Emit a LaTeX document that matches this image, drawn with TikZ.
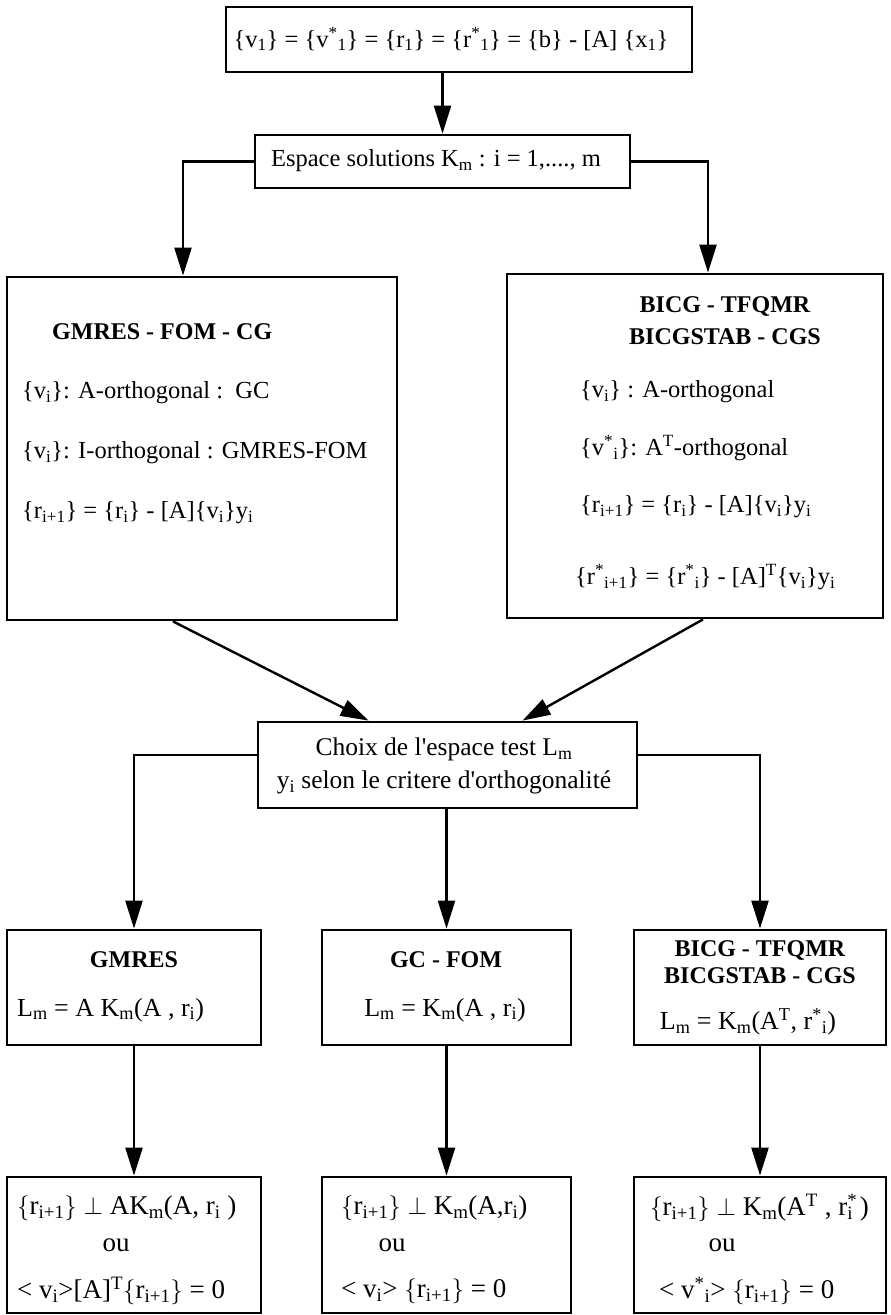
\documentclass[tikz,border=0pt]{standalone}
\usepackage{fontspec}
\setmainfont{Liberation Serif}
\usetikzlibrary{arrows.meta}
\newcommand{\sbs}[1]{\textsubscript{#1}}
\newcommand{\sps}[1]{\textsuperscript{#1}}
\newcommand{\lb}{$\bigl\{$}
\newcommand{\rb}{$\bigr\}$}
\newcommand{\qs}{\textquotesingle}
\begin{document}
\begin{tikzpicture}[x=1pt,y=-1pt,
  box/.style={draw,line width=2.8pt,inner sep=0pt},
  txt/.style={font=\fontsize{24.5}{29}\selectfont,inner sep=0pt},
  txtb/.style={font=\fontsize{24}{27}\selectfont\bfseries,inner sep=0pt,align=center},
  txtm/.style={font=\fontsize{26}{30}\selectfont,inner sep=0pt},
  txtl/.style={font=\fontsize{27}{30}\selectfont,inner sep=0pt},
  arr/.style={line width=2.4pt,-{Triangle[length=28pt,width=17pt]}},
  ln/.style={line width=2.4pt}]
\useasboundingbox (0,0) rectangle (891,1315);
\fill[white] (0,0) rectangle (891,1315);
% boxes
\node[box,minimum width=466pt,minimum height=65pt] (top) at (459,39.5) {};
\node[box,minimum width=375pt,minimum height=53pt] (esp) at (442.5,161.5) {};
\node[box,minimum width=390pt,minimum height=343pt] (lbx) at (202,448.5) {};
\node[box,minimum width=376pt,minimum height=344pt] (rbx) at (695,446) {};
\node[box,minimum width=379pt,minimum height=86pt] (ch) at (447.5,765) {};
\node[box,minimum width=254pt,minimum height=115pt] (g1) at (134,987.5) {};
\node[box,minimum width=249pt,minimum height=115pt] (g2) at (446.5,987.5) {};
\node[box,minimum width=252pt,minimum height=115pt] (g3) at (760,987.5) {};
\node[box,minimum width=254pt,minimum height=136pt] (h1) at (134,1245) {};
\node[box,minimum width=249pt,minimum height=136pt] (h2) at (446.5,1245) {};
\node[box,minimum width=252pt,minimum height=136pt] (h3) at (760,1245) {};
% texts
\node[txt] (ttop) at (451,39) {\{v\sbs{1}\} = \{v\sps{*}\sbs{1}\} = \{r\sbs{1}\} = \{r\sps{*}\sbs{1}\} = \{b\} - [A] \{x\sbs{1}\}};
\node[txt] (tesp) at (436,161) {Espace solutions K\sbs{m} : i = 1,...., m};
\node[txtb,anchor=west] (l1) at (52,332) {GMRES - FOM - CG};
\node[txt,anchor=west] (l2) at (22,393) {\{v\sbs{i}\}: A-orthogonal :~~GC};
\node[txt,anchor=west] (l3) at (22,453) {\{v\sbs{i}\}: I-orthogonal : GMRES-FOM};
\node[txt,anchor=west] (l4) at (22,513) {\{r\sbs{i+1}\} = \{r\sbs{i}\} - [A]\{v\sbs{i}\}y\sbs{i}};
\node[txtb,font=\fontsize{24}{32}\selectfont\bfseries] (r1) at (725,321) {BICG - TFQMR\\BICGSTAB - CGS};
\node[txt,anchor=west] (r2) at (580,392) {\{v\sbs{i}\} : A-orthogonal};
\node[txt,anchor=west] (r3) at (580,448) {\{v\sps{*}\sbs{i}\}: A\sps{T}-orthogonal};
\node[txt,anchor=west] (r4) at (580,507) {\{r\sbs{i+1}\} = \{r\sbs{i}\} - [A]\{v\sbs{i}\}y\sbs{i}};
\node[txt,anchor=west] (r5) at (575,577) {\{r\sps{*}\sbs{i+1}\} = \{r\sps{*}\sbs{i}\} - [A]\sps{T}\{v\sbs{i}\}y\sbs{i}};
\node[txt,align=center,font=\fontsize{25.5}{33}\selectfont] (tch) at (444,766) {Choix de l\qs espace test L\sbs{m}\\y\sbs{i} selon le critere d\qs orthogonalité};
\node[txtb] (a1) at (134,960) {GMRES};
\node[txtm,anchor=west] (a2) at (17,1010) {L\sbs{m} = A K\sbs{m}(A , r\sbs{i})};
\node[txtb] (b1) at (446,960) {GC - FOM};
\node[txtm] (b2) at (445,1010) {L\sbs{m} = K\sbs{m}(A , r\sbs{i})};
\node[txtb] (c1) at (760,962) {BICG - TFQMR\\BICGSTAB - CGS};
\node[txtm] (c2) at (748,1022) {L\sbs{m} = K\sbs{m}(A\sps{T}, r\sps{*}\sbs{i})};
\node[txtl,anchor=west] (d1) at (17,1208) {\lb r\sbs{i+1}\rb\ $\perp$ AK\sbs{m}(A, r\sbs{i} )};
\node[txtl] (d2) at (116,1245) {ou};
\node[txtl,anchor=west] (d3) at (17,1291) {< v\sbs{i}>[A]\sps{T}\lb r\sbs{i+1}\rb\ = 0};
\node[txtl,anchor=west] (e1) at (341,1208) {\lb r\sbs{i+1}\rb\ $\perp$ K\sbs{m}(A,r\sbs{i})};
\node[txtl] (e2) at (392,1245) {ou};
\node[txtl,anchor=west] (e3) at (341,1291) {< v\sbs{i}> \lb r\sbs{i+1}\rb\ = 0};
\node[txtl,anchor=west] (f1) at (650,1208) {\lb r\sbs{i+1}\rb\ $\perp$ K\sbs{m}(A\sps{T} , r\rlap{\sps{*}}\sbs{i} )};
\node[txtl] (f2) at (722,1245) {ou};
\node[txtl,anchor=west] (f3) at (659,1291) {< v\sps{*}\sbs{i}> \lb r\sbs{i+1}\rb\ = 0};
% connectors
\draw[arr] (top.south -| esp.north) -- (esp.north);
\draw[arr] (esp.west) -| ([xshift=-19pt]lbx.north);
\draw[arr] (esp.east) -| ([xshift=13pt]rbx.north);
\draw[arr] ([xshift=-29pt]lbx.south) -- ([xshift=-79pt]ch.north);
\draw[arr] ([xshift=8pt]rbx.south) -- ([xshift=75pt]ch.north);
\draw[arr] ([yshift=10pt]ch.west) -| (g1.north);
\draw[arr] (ch.south -| g2.north) -- (g2.north);
\draw[arr] ([yshift=10pt]ch.east) -| (g3.north);
\draw[arr] (g1.south) -- (h1.north);
\draw[arr] (g2.south) -- (h2.north);
\draw[arr] (g3.south) -- (h3.north);
\end{tikzpicture}
\end{document}
